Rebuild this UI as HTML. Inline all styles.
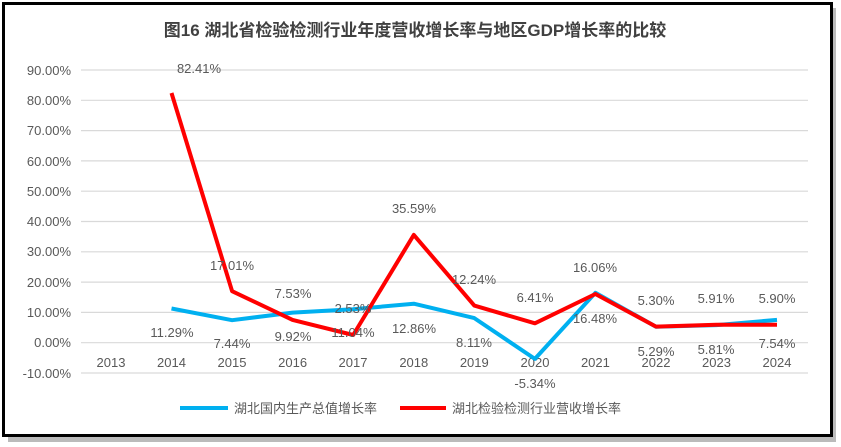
<!DOCTYPE html><html><head><meta charset="utf-8"><style>body{margin:0;background:#fff}svg{display:block}text{font-family:"Liberation Sans","Noto Sans CJK SC",sans-serif;fill:#595959;font-size:13px}</style></head><body>
<svg width="841" height="447" viewBox="0 0 841 447">
<rect x="0" y="0" width="841" height="447" fill="#fff"/>
<rect x="8" y="8" width="828" height="434" fill="#bbb"/>
<rect x="3.5" y="3.5" width="828" height="432" fill="#fff" stroke="#000" stroke-width="3"/>
<text x="415" y="36" text-anchor="middle" style="font-size:17px;font-weight:bold;fill:#404040">图16  湖北省检验检测行业年度营收增长率与地区GDP增长率的比较</text>
<g stroke="#d9d9d9" stroke-width="1.2">
<line x1="81" x2="808" y1="70" y2="70"/><line x1="81" x2="808" y1="100.3" y2="100.3"/><line x1="81" x2="808" y1="130.6" y2="130.6"/><line x1="81" x2="808" y1="160.9" y2="160.9"/><line x1="81" x2="808" y1="191.2" y2="191.2"/><line x1="81" x2="808" y1="221.5" y2="221.5"/><line x1="81" x2="808" y1="251.8" y2="251.8"/><line x1="81" x2="808" y1="282.1" y2="282.1"/><line x1="81" x2="808" y1="312.4" y2="312.4"/><line x1="81" x2="808" y1="342.7" y2="342.7"/><line x1="81" x2="808" y1="373" y2="373"/>
</g>
<g text-anchor="end">
<text x="71" y="75">90.00%</text><text x="71" y="105">80.00%</text><text x="71" y="135">70.00%</text><text x="71" y="166">60.00%</text><text x="71" y="196">50.00%</text><text x="71" y="226">40.00%</text><text x="71" y="256">30.00%</text><text x="71" y="287">20.00%</text><text x="71" y="317">10.00%</text><text x="71" y="347">0.00%</text><text x="71" y="378">-10.00%</text>
</g>
<g text-anchor="middle">
<text x="111" y="367">2013</text><text x="171.5" y="367">2014</text><text x="232" y="367">2015</text><text x="292.6" y="367">2016</text><text x="353" y="367">2017</text><text x="413.8" y="367">2018</text><text x="474.3" y="367">2019</text><text x="535" y="367">2020</text><text x="595.4" y="367">2021</text><text x="656" y="367">2022</text><text x="716.5" y="367">2023</text><text x="777" y="367">2024</text>
</g>
<polyline fill="none" stroke="#00b0f0" stroke-width="4" stroke-linejoin="round" points="171.5,308.5 232.1,320.2 292.6,312.6 353.2,309.2 413.8,303.7 474.3,318.1 534.9,358.9 595.4,292.8 656,326.7 716.5,325.1 777,319.9"/>
<polyline fill="none" stroke="#ff0000" stroke-width="4" stroke-linejoin="round" points="171.5,93 232.1,291.2 292.6,319.9 353.2,335 413.8,234.9 474.3,305.6 534.9,323.3 595.4,294 656,326.6 716.5,324.8 777,324.8"/>
<g text-anchor="middle">
<text x="199" y="73">82.41%</text><text x="232" y="270">17.01%</text><text x="293" y="298">7.53%</text><text x="353" y="313">2.53%</text><text x="414" y="213">35.59%</text><text x="474" y="284">12.24%</text><text x="535" y="302">6.41%</text><text x="595" y="272">16.06%</text><text x="656" y="305">5.30%</text><text x="716" y="303">5.91%</text><text x="777" y="303">5.90%</text>
<text x="172" y="337">11.29%</text><text x="232" y="348">7.44%</text><text x="293" y="341">9.92%</text><text x="353" y="337">11.04%</text><text x="414" y="333">12.86%</text><text x="474" y="347">8.11%</text><text x="535" y="388">-5.34%</text><text x="595" y="323">16.48%</text><text x="656" y="356">5.29%</text><text x="716" y="354">5.81%</text><text x="777" y="348">7.54%</text>
</g>
<line x1="180" x2="228" y1="408" y2="408" stroke="#00b0f0" stroke-width="4"/>
<text x="234" y="413">湖北国内生产总值增长率</text>
<line x1="400" x2="446" y1="408" y2="408" stroke="#ff0000" stroke-width="4"/>
<text x="452" y="413">湖北检验检测行业营收增长率</text>
</svg></body></html>
